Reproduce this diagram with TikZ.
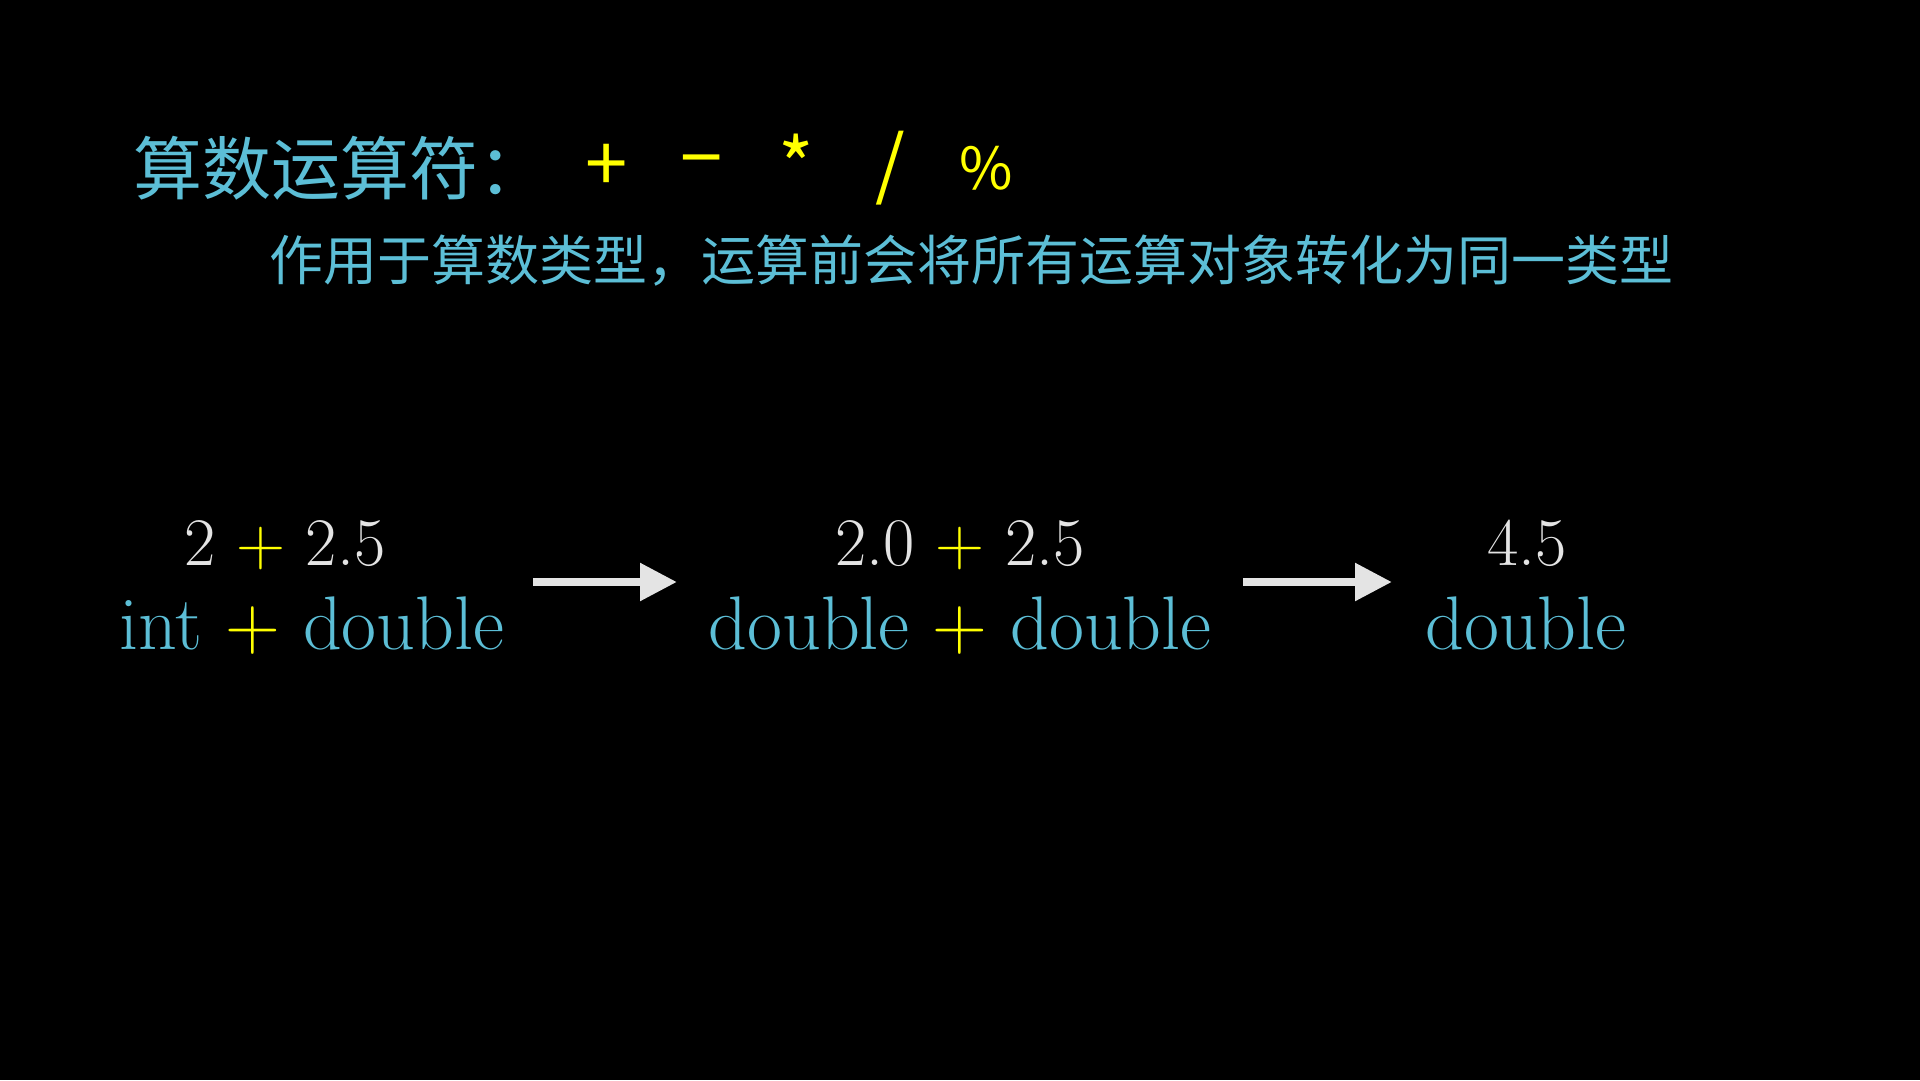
\documentclass[tikz,border=0pt]{standalone}
\usepackage{fontspec}
\newfontfamily\cjk{Noto Sans CJK SC}
\usetikzlibrary{arrows.meta}
\definecolor{cy}{RGB}{92,190,214}
\definecolor{yel}{RGB}{255,255,0}
\definecolor{wh}{RGB}{228,228,228}
\begin{document}
\begin{tikzpicture}[x=1pt,y=-1pt,
 cjktitle/.style={font=\cjk\fontsize{69}{74}\selectfont, text=cy, inner sep=0, anchor=west},
 op/.style={font=\cjk\fontsize{76}{80}\selectfont, text=yel, inner sep=0},
 subline/.style={font=\cjk\fontsize{54}{60}\selectfont, text=cy, inner sep=0, anchor=west},
 num/.style={font=\fontsize{68}{80}\selectfont, text=wh, inner sep=0, anchor=base},
 typ/.style={font=\fontsize{76}{86}\selectfont, text=cy, inner sep=0, anchor=base},
 conv/.style={draw=wh, line width=8.5pt, -{Triangle[length=37pt,width=36pt]}}]
\fill[black] (0,0) rectangle (1920,1080);
\useasboundingbox (0,0) rectangle (1920,1080);
% title
\node[cjktitle] (title) at (133,168) {算数运算符：};
\node[op] (plus) at (607,168) {+};
\node[op] (minus) at (702,170) {−};
\node[op] (times) at (796,164) {*};
\node[op] (div) at (890,168) {/};
\node[op, font=\cjk\fontsize{58}{60}\selectfont] (mod) at (986,168) {\%};
\node[subline] (sub) at (269,261) {作用于算数类型，运算前会将所有运算对象转化为同一类型};
% expressions
\node[num] (n1) at (285,565) {2 \textcolor{yel}{+} 2.5};
\node[typ] (t1) at (312,649) {int \textcolor{yel}{+} double};
\node[num] (n2) at (960,565) {2.0 \textcolor{yel}{+} 2.5};
\node[typ] (t2) at (960,649) {double \textcolor{yel}{+} double};
\node[num] (n3) at (1527,565) {4.5};
\node[typ] (t3) at (1526,649) {double};
% arrows
\coordinate (a1s) at (533,582);
\coordinate (a1e) at (677,582);
\coordinate (a2s) at (1243,582);
\coordinate (a2e) at (1392,582);
\draw[conv] (a1s) -- (a1e);
\draw[conv] (a2s) -- (a2e);
\end{tikzpicture}
\end{document}
